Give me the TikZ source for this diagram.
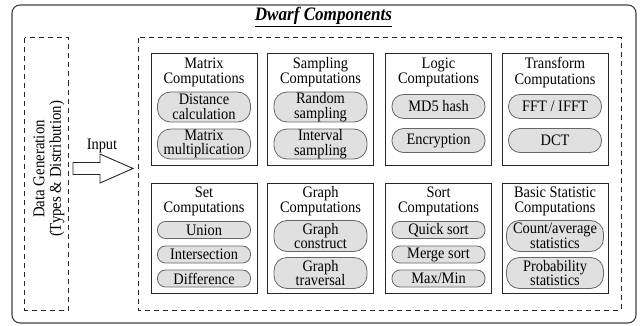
\documentclass[tikz,border=0pt]{standalone}
\usepackage{fontspec}
\setmainfont{Liberation Serif}[FakeStretch=0.9]
\begin{document}
\begin{tikzpicture}[x=1pt,y=-1pt,
  box/.style={draw=black!85, line width=1pt, minimum width=106pt, minimum height=111pt, inner sep=0pt},
  box2/.style={box, minimum height=110pt},
  ttl/.style={align=center, inner sep=0pt, font=\fontsize{16}{15.2}\selectfont},
  pillbase/.style={draw=black!60, fill=black!12, line width=0.8pt, align=center, inner sep=0pt,
     minimum width=93pt, font=\fontsize{16}{14.8}\selectfont},
  pilltwo/.style={pillbase, minimum height=30pt, rounded corners=13pt},
  pillone/.style={pillbase, minimum height=24pt, rounded corners=11.5pt},
  pillsm/.style={pillbase, minimum height=17pt, rounded corners=8pt},
  dashbox/.style={draw=black!85, line width=1pt, dash pattern=on 5pt off 4pt}
]
\useasboundingbox (0,0) rectangle (642,326);
% outer frame
\draw[draw=black!75, line width=1.1pt, rounded corners=8pt] (12,5) rectangle (636,323);
\node[inner sep=0pt, font=\fontsize{19}{20}\selectfont\bfseries\itshape] (title) at (323.5,17) {\underline{Dwarf Components}};
% dashed boxes
\draw[dashbox] (24.5,38) rectangle (68,310);
\draw[dashbox] (138,38) rectangle (621,310);
\node[rotate=90, align=center, inner sep=0pt, font=\fontsize{16.5}{16.5}\selectfont] (dg) at (49,169) {Data Generation\\(Types \& Distribution)};
% input arrow
\node[inner sep=0pt, font=\fontsize{16}{16}\selectfont] (inp) at (102,146) {Input};
\coordinate (a0) at (73,162.5);
\coordinate (a1) at (100,162.5);
\coordinate (a2) at (100,154);
\coordinate (tip) at (133,168.5);
\coordinate (a3) at (100,183);
\coordinate (a4) at (100,174.5);
\coordinate (a5) at (73,174.5);
\draw[draw=black!85, line width=0.9pt, fill=white] (a0) -- (a1) -- (a2) -- (tip) -- (a3) -- (a4) -- (a5) -- cycle;

% Row 1
\node[box] (mat) at (204,109.5) {};
\node[ttl] (matT) at (204,72.5) {Matrix\\Computations};
\node[pilltwo] (mat1) at (204,107) {Distance\\calculation};
\node[pilltwo] (mat2) at (204,144) {Matrix\\multiplication};

\node[box] (smp) at (320.5,109.5) {};
\node[ttl] (smpT) at (320.5,72.5) {Sampling\\Computations};
\node[pilltwo] (smp1) at (320.5,107) {Random\\sampling};
\node[pilltwo] (smp2) at (320.5,144) {Interval\\sampling};

\node[box] (log) at (438.5,109.5) {};
\node[ttl] (logT) at (438.5,72.5) {Logic\\Computations};
\node[pillone] (log1) at (438.5,106.5) {MD5 hash};
\node[pillone] (log2) at (438.5,140.5) {Encryption};

\node[box] (trf) at (555,109.5) {};
\node[ttl] (trfT) at (555,72.5) {Transform\\Computations};
\node[pillone] (trf1) at (555,106.5) {FFT / IFFT};
\node[pillone] (trf2) at (555,140.5) {DCT};

% Row 2
\node[box2] (set) at (204,238) {};
\node[ttl] (setT) at (204,201.5) {Set\\Computations};
\node[pillsm] (set1) at (204,230) {Union};
\node[pillsm] (set2) at (204,254.5) {Intersection};
\node[pillsm] (set3) at (204,278.5) {Difference};

\node[box2] (gra) at (320.5,238) {};
\node[ttl] (graT) at (320.5,201.5) {Graph\\Computations};
\node[pilltwo, minimum height=31pt] (gra1) at (320.5,236) {Graph\\construct};
\node[pilltwo, minimum height=31pt] (gra2) at (320.5,273) {Graph\\traversal};

\node[box2] (srt) at (438.5,238) {};
\node[ttl] (srtT) at (438.5,201.5) {Sort\\Computations};
\node[pillsm] (srt1) at (438.5,230) {Quick sort};
\node[pillsm] (srt2) at (438.5,254.5) {Merge sort};
\node[pillsm] (srt3) at (438.5,278.5) {Max/Min};

\node[box2] (bst) at (555,238) {};
\node[ttl] (bstT) at (555,201.5) {Basic Statistic\\Computations};
\node[pilltwo, minimum height=31pt, minimum width=97pt] (bst1) at (555,236) {Count/average\\statistics};
\node[pilltwo, minimum height=31pt, minimum width=97pt] (bst2) at (555,273) {Probability\\statistics};
\end{tikzpicture}
\end{document}
